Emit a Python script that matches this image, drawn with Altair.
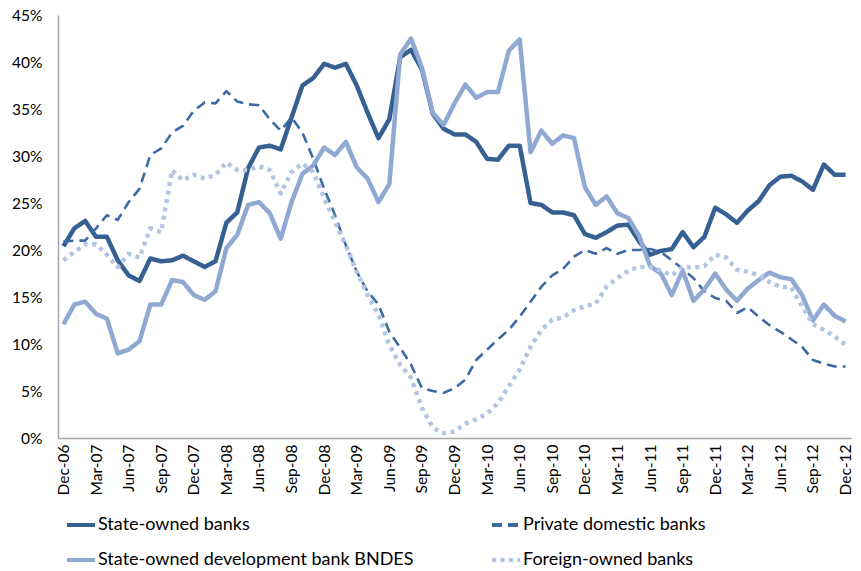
import altair as alt
import pandas as pd

mon = ["Jan", "Feb", "Mar", "Apr", "May", "Jun", "Jul", "Aug", "Sep", "Oct", "Nov", "Dec"]
months = ["Dec-06"] + [f"{m}-{y:02d}" for y in range(7, 13) for m in mon]

series_names = ["State-owned banks", "Private domestic banks",
                "State-owned development bank BNDES", "Foreign-owned banks"]
# legend fills column by column
legend_order = ["State-owned banks", "State-owned development bank BNDES",
                "Private domestic banks", "Foreign-owned banks"]

state = [20.4, 22.3, 23.1, 21.4, 21.4, 18.9, 17.3, 16.7, 19.1, 18.8,
         18.9, 19.4, 18.8, 18.2, 18.8, 22.9, 24.0, 28.7, 30.9, 31.1,
         30.7, 34.1, 37.5, 38.3, 39.8, 39.4, 39.8, 37.5, 34.6, 31.9,
         33.9, 40.5, 41.3, 39.2, 34.5, 32.9, 32.3, 32.3, 31.5, 29.7,
         29.6, 31.1, 31.1, 25.0, 24.8, 24.0, 24.0, 23.7, 21.7, 21.3,
         21.9, 22.6, 22.7, 20.9, 19.5, 19.9, 20.1, 21.9, 20.3, 21.4,
         24.5, 23.8, 22.9, 24.2, 25.2, 26.9, 27.8, 27.9, 27.3, 26.4,
         29.1, 28.0, 28.0]

private = [20.9, 21.0, 21.0, 22.3, 23.7, 23.2, 25.1, 26.5, 30.1, 30.8,
           32.5, 33.2, 34.8, 35.7, 35.6, 36.9, 35.8, 35.5, 35.4, 33.9,
           32.7, 34.1, 32.5, 29.7, 26.5, 23.7, 20.5, 17.7, 15.6, 14.2,
           11.3, 9.6, 7.8, 5.3, 5.0, 4.8, 5.3, 6.2, 8.3, 9.4,
           10.5, 11.5, 12.9, 14.5, 16.1, 17.3, 18.0, 19.3, 20.0, 19.6,
           20.2, 19.6, 20.0, 20.0, 20.1, 19.8, 18.9, 18.0, 17.0, 15.6,
           14.9, 14.6, 13.3, 13.9, 12.9, 12.0, 11.3, 10.5, 9.7, 8.3,
           7.9, 7.6, 7.6]

bndes = [12.1, 14.2, 14.5, 13.2, 12.7, 9.0, 9.4, 10.3, 14.2, 14.2,
         16.8, 16.6, 15.2, 14.7, 15.6, 20.2, 21.6, 24.8, 25.1, 23.9,
         21.2, 25.1, 28.1, 29.0, 30.9, 30.1, 31.5, 28.8, 27.6, 25.1,
         27.0, 40.8, 42.5, 39.4, 34.6, 33.3, 35.6, 37.6, 36.2, 36.8,
         36.8, 41.2, 42.4, 30.4, 32.7, 31.3, 32.2, 31.9, 26.7, 24.8,
         25.7, 23.9, 23.4, 21.5, 18.3, 17.5, 15.2, 17.8, 14.6, 15.8,
         17.5, 15.8, 14.6, 15.9, 16.8, 17.6, 17.1, 16.9, 15.2, 12.5,
         14.2, 13.0, 12.4]

foreign = [18.9, 19.8, 20.6, 20.6, 19.5, 18.2, 19.6, 19.2, 22.3, 21.9,
           28.5, 27.4, 28.0, 27.6, 28.0, 29.3, 28.5, 28.5, 28.9, 28.5,
           26.0, 28.3, 29.2, 28.3, 25.5, 23.0, 20.5, 17.7, 15.2, 13.1,
           9.9, 7.8, 6.4, 3.2, 1.1, 0.5, 0.7, 1.5, 2.0, 2.6,
           3.7, 5.5, 7.3, 9.7, 11.5, 12.6, 12.8, 13.6, 14.0, 14.3,
           16.1, 17.0, 17.8, 18.2, 18.2, 17.8, 17.3, 18.2, 18.1, 18.3,
           19.5, 19.2, 17.9, 17.7, 17.3, 16.6, 16.1, 16.0, 14.0, 12.1,
           11.5, 10.8, 9.9]

colors = {"State-owned banks": "#376092", "Private domestic banks": "#3C6AA3",
          "State-owned development bank BNDES": "#90A9D2", "Foreign-owned banks": "#B4C5E1"}
dashes = {"State-owned banks": [1, 0], "Private domestic banks": [10, 6],
          "State-owned development bank BNDES": [1, 0], "Foreign-owned banks": [4, 4.5]}
widths = {"State-owned banks": 4.5, "Private domestic banks": 2.6,
          "State-owned development bank BNDES": 4.5, "Foreign-owned banks": 4.5}

rows = []
for name, vals in zip(series_names, [state, private, bndes, foreign]):
    for m, v in zip(months, vals):
        rows.append({"month": m, "value": v, "series": name, "sw": widths[name]})
df = pd.DataFrame(rows)

leg = alt.Legend(
    title=None, orient="none", legendX=7, legendY=494, columns=2,
    columnPadding=70, rowPadding=10, symbolType="stroke", symbolSize=784,
    symbolStrokeWidth=4, labelFont="Lato", labelFontSize=18,
    labelColor="#000000", labelOffset=1, labelLimit=400,
)

chart = alt.Chart(df).mark_line(strokeCap="butt", strokeJoin="round").encode(
    x=alt.X("month:O", sort=months, title=None,
            axis=alt.Axis(values=months[::3], labelAngle=270, ticks=False,
                          labelPadding=6, labelFont="Lato", labelFontSize=15.5,
                          labelColor="#000000", domainColor="#A6A6A6",
                          domainWidth=1.5, grid=False)),
    y=alt.Y("value:Q", title=None,
            scale=alt.Scale(domain=[0, 45], nice=False),
            axis=alt.Axis(values=list(range(0, 50, 5)), labelExpr="datum.value + '%'",
                          ticks=False, labelPadding=16, labelFont="Lato",
                          labelFontSize=15.5, labelColor="#000000",
                          domainColor="#A6A6A6", domainWidth=1.5, grid=False)),
    color=alt.Color("series:N",
                    scale=alt.Scale(domain=legend_order,
                                    range=[colors[s] for s in legend_order]),
                    legend=leg),
    strokeDash=alt.StrokeDash("series:N",
                              scale=alt.Scale(domain=legend_order,
                                              range=[dashes[s] for s in legend_order]),
                              legend=leg),
    strokeWidth=alt.StrokeWidth("sw:Q", scale=None),
).properties(
    width=793, height=423,
    autosize=alt.AutoSizeParams(type="none"),
    padding={"left": 50, "top": 7, "right": 2, "bottom": 150},
).configure_view(stroke=None)

chart.save("out.html", embed_options={"renderer": "svg", "actions": False})
